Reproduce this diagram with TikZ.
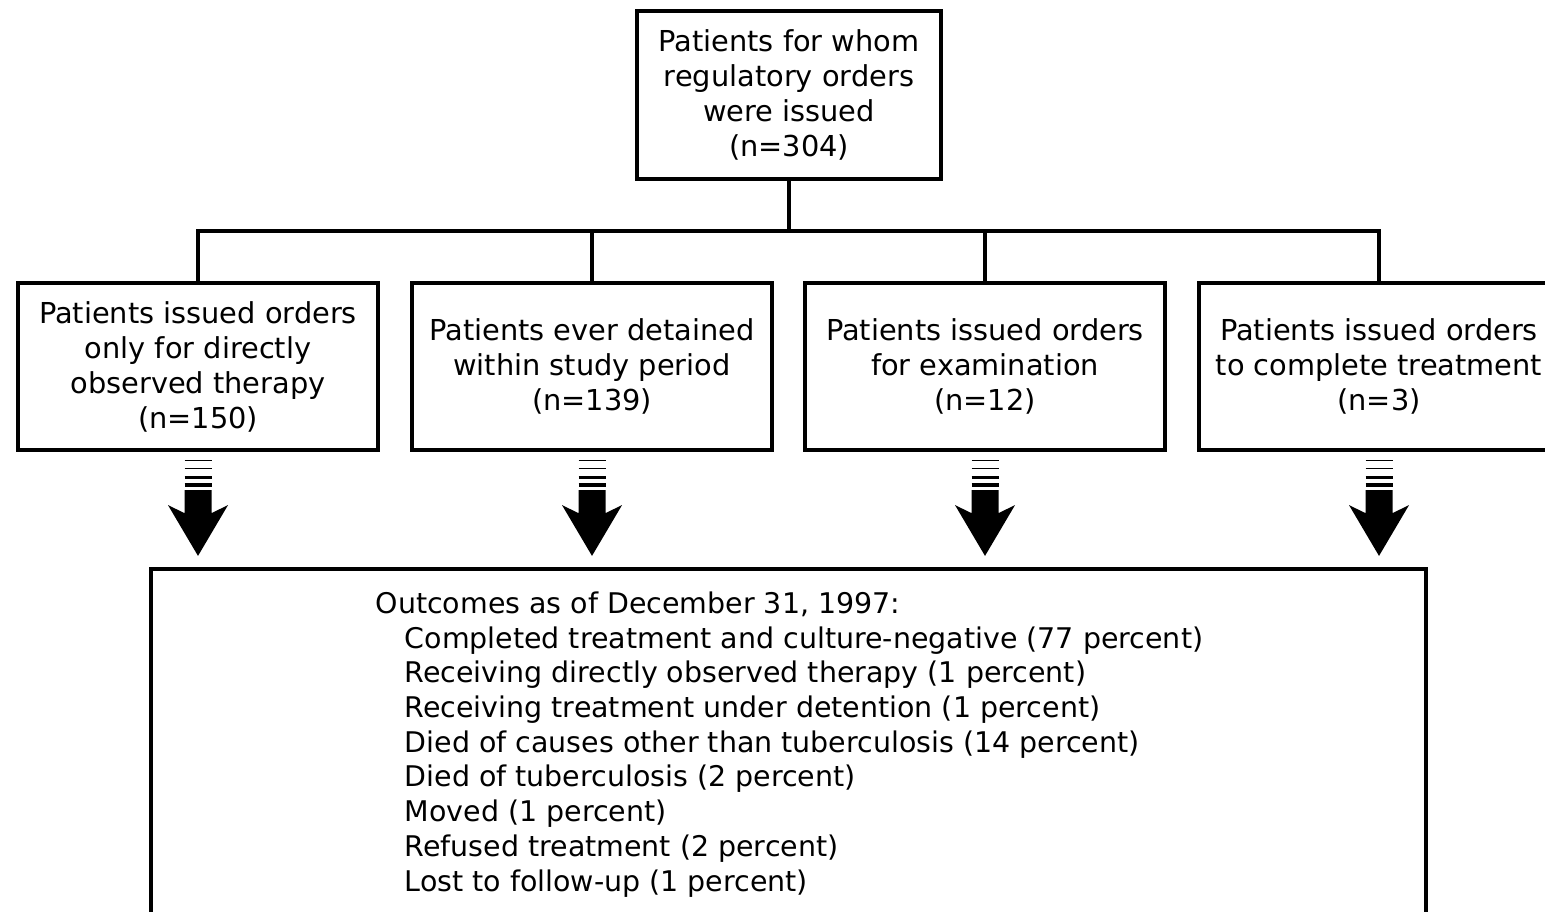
\documentclass[tikz,border=0pt]{standalone}
\usepackage{fontspec}
\setmainfont{DejaVu Sans}
\usetikzlibrary{calc}

\tikzset{
  box/.style={draw, line width=1.2pt, minimum width=3.6cm, minimum height=1.67cm,
    align=center, inner sep=0pt, font=\fontsize{8.2}{9.96}\selectfont},
  link/.style={line width=1.05pt}
}

\begin{document}
\begin{tikzpicture}

% 画布大小与裁剪
\useasboundingbox (0,0) rectangle (15.45,9.11);
\clip (0,0) rectangle (15.45,9.11);

% 顶部方框
\node[box, minimum width=3.04cm, minimum height=1.68cm] (top) at (7.89,8.16)
  {Patients for whom\\regulatory orders\\were issued\\(n=304)};

% 四个分组方框
\node[box] (b1) at (1.98,5.445) {Patients issued orders\\only for directly\\observed therapy\\(n=150)};
\node[box] (b2) at (5.92,5.445) {Patients ever detained\\within study period\\(n=139)};
\node[box] (b3) at (9.85,5.445) {Patients issued orders\\for examination\\(n=12)};
\node[box] (b4) at (13.79,5.445) {Patients issued orders\\to complete treatment\\(n=3)};

% 结果方框(下边超出画布)
\node[draw, line width=1.2pt, minimum width=12.75cm, minimum height=4cm] (out) at (7.885,1.42) {};
\node[anchor=north west, align=left, inner sep=0pt, font=\fontsize{8.1}{9.88}\selectfont] (outtxt) at (3.75,3.2)
  {Outcomes as of December 31, 1997:\\
   \hspace*{0.29cm}Completed treatment and culture-negative (77 percent)\\
   \hspace*{0.29cm}Receiving directly observed therapy (1 percent)\\
   \hspace*{0.29cm}Receiving treatment under detention (1 percent)\\
   \hspace*{0.29cm}Died of causes other than tuberculosis (14 percent)\\
   \hspace*{0.29cm}Died of tuberculosis (2 percent)\\
   \hspace*{0.29cm}Moved (1 percent)\\
   \hspace*{0.29cm}Refused treatment (2 percent)\\
   \hspace*{0.29cm}Lost to follow-up (1 percent)};

% 分支连线
\coordinate (bus) at (7.89,6.80);
\draw[link] (top.south) -- (bus);
\draw[link] (b1.north) |- (bus) -| (b4.north);
\draw[link] (b2.north) -- (b2.north |- bus);
\draw[link] (b3.north) -- (b3.north |- bus);

% 条纹粗箭头
\foreach \b in {b1,b2,b3,b4}{
  \foreach \d/\w in {0.085/0.35pt,0.165/0.45pt,0.25/0.85pt,0.33/1.15pt}
    \draw[line width=\w] ($(\b.south)+(-0.135,-\d)$) -- ++(0.27,0);
  \fill ($(\b.south)+(-0.135,-0.38)$) -- ($(\b.south)+(-0.135,-0.61)$)
    -- ($(\b.south)+(-0.30,-0.53)$) -- ($(\b.south |- out.north)+(0,0.11)$)
    -- ($(\b.south)+(0.30,-0.53)$) -- ($(\b.south)+(0.135,-0.61)$)
    -- ($(\b.south)+(0.135,-0.38)$) -- cycle;
}

\end{tikzpicture}
\end{document}
